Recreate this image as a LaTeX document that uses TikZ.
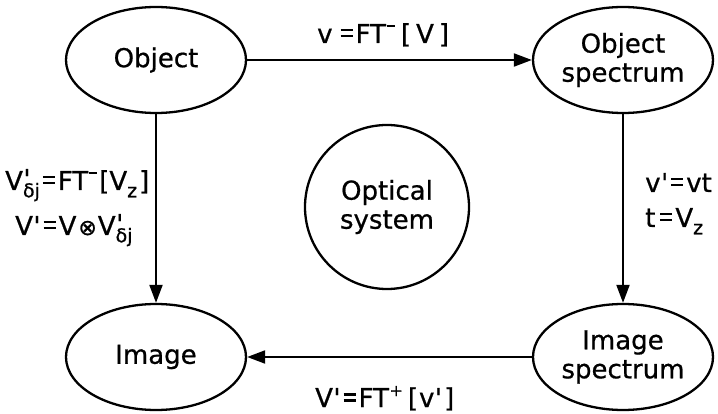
\documentclass[tikz,border=0pt]{standalone}
\usepackage{fontspec}
\setmainfont{DejaVu Sans}[FakeBold=0.7]
\usetikzlibrary{shapes.geometric,arrows.meta}
\newcommand\lbsub[1]{\raisebox{-0.28em}{\fontsize{19}{19}\selectfont #1}}
\newcommand\lbminus{\kern1pt\raisebox{16pt}{\rule{8pt}{2.2pt}}\kern1pt}
\newcommand\lbplus{\kern0.5pt\raisebox{0.42em}{\fontsize{16}{16}\selectfont +}}
\newcommand\lbeq{\kern3pt\rlap{\raisebox{5.5pt}{\rule{12pt}{2.2pt}}}\raisebox{11.5pt}{\rule{12pt}{2.2pt}}\kern3pt}
\newcommand\prm{\kern0.5pt\textquotesingle}
\begin{document}
\begin{tikzpicture}[x=1pt,y=-1pt,
  every node/.style={font=\fontsize{26}{29}\selectfont},
  blob/.style={draw, line width=2.3pt, ellipse, minimum width=180pt, minimum height=106pt, inner sep=0pt, align=center},
  roundbox/.style={draw, line width=2.3pt, circle, minimum size=164pt, inner sep=0pt, align=center},
  flow/.style={line width=2pt, -{Triangle[length=18pt,width=13pt]}},
  lbl/.style={anchor=base west, inner sep=0pt}]
\useasboundingbox (0,0) rectangle (718,414);
\node[blob] (obj) at (156,60) {Object};
\node[blob] (objspec) at (623,60) {Object\\spectrum};
\node[blob] (img) at (156,357) {Image};
\node[blob] (imgspec) at (623,357) {Image\\spectrum};
\node[roundbox] (opt) at (387,207) {Optical\\system};
\draw[flow] (obj) -- (objspec);
\draw[flow] (objspec) -- (imgspec);
\draw[flow] (imgspec) -- (img);
\draw[flow] (obj) -- (img);
\node[lbl] (ltop) at (317,43) {v\kern5pt\lbeq FT\lbminus\kern5pt[\kern5pt V\kern5pt]};
\node[lbl] (lbot) at (315,407) {V\prm\lbeq FT\lbplus\kern5pt[\kern1pt v\prm\kern2pt]};
\node[lbl] (lleft1) at (5,190) {V\makebox[0pt][l]{\raisebox{2pt}{\prm}}\lbsub{δj}\lbeq FT\lbminus\kern1pt[V\lbsub{z}\kern2pt]};
\node[lbl] (lleft2) at (15,235) {V\prm\lbeq V\kern2pt{\fontsize{22}{22}\selectfont ⊗}\kern1pt V\makebox[0pt][l]{\raisebox{2pt}{\prm}}\lbsub{δj}};
\node[lbl] (lright1) at (645,192) {v\prm\lbeq vt};
\node[lbl] (lright2) at (645,227) {t\kern2pt\lbeq V\lbsub{z}};
\end{tikzpicture}
\end{document}
